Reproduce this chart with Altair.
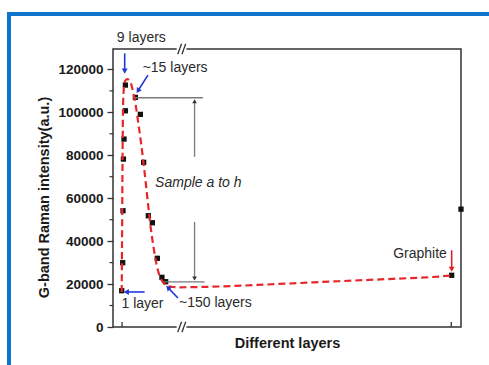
import altair as alt
import pandas as pd

# ---- measured data (x in arbitrary "layer position" units 0-100) ----
layer_x = [2.50, 2.78, 2.87, 2.99, 3.16, 3.56, 3.56, 6.43, 7.86, 8.81, 10.16,
           11.31, 12.74, 14.06, 15.13, 97.32, 100.0]
intensity = [16900, 29950, 54160, 78230, 87540, 100720, 112690, 106960, 99050,
             76700, 51830, 48570, 32000, 23140, 21100, 24090, 54900]

fit_x = [2.50, 2.58, 2.67, 2.76, 2.87, 3.07, 3.50, 4.08, 4.65, 5.22, 5.80, 6.52,
         7.23, 7.95, 8.67, 9.39, 10.10, 10.82, 11.68, 12.54, 13.40, 14.55, 15.70,
         17.14, 19.14, 24.89, 34.36, 44.12, 53.59, 63.06, 72.82, 82.29, 91.76, 97.30]
fit_y = [16300, 35850, 59140, 82420, 101050, 110360, 114550, 115480, 115020,
         113150, 109430, 103380, 95460, 87080, 77770, 67520, 56810, 46570, 36790,
         28870, 23750, 20490, 19090, 18630, 18490, 18630, 19090, 19790, 20490,
         21190, 21880, 22580, 23280, 23980]

y_tick_values = [0, 20000, 40000, 60000, 80000, 100000, 120000]
y_minor_values = [10000, 30000, 50000, 70000, 90000, 110000]
x_tick_values = [2.6, 97.2]

label_text = ["9 layers", "~15 layers", "1 layer", "~150 layers", "Graphite"]
label_x = [8.15, 17.85, 8.47, 29.42, 88.23]
label_y = [134580, 120470, 10710, 11040, 33990]

sample_text = ["Sample a to h"]
sample_x = [24.51]
sample_y = [66910]

# blue pointer arrows (start -> tip)
blue_x = [3.36, 10.05, 9.09, 18.66]
blue_y = [127460, 117360, 16320, 13520]
blue_x2 = [3.36, 7.18, 3.83, 15.79]
blue_y2 = [119200, 110050, 16320, 18340]
blue_angle = [180, 212.5, 270, 316]

# red graphite arrow
red_x = [97.32]
red_y = [35750]
red_x2 = [97.32]
red_y2 = [26900]
red_angle = [180]

# gray brackets (horizontal lines) and double arrow
bracket_x = [5.74, 14.35]
bracket_x2 = [25.84, 26.32]
bracket_y = [106790, 20980]
gray_x = [23.44, 23.44]
gray_y = [79270, 48960]
gray_y2 = [105200, 22600]
gray_angle = [0, 180]

# axis break position
break_x = [19.7]
break_y = [129500, 0]

X_DOMAIN = [0, 100]
Y_DOMAIN = [0, 129500]
FONT = "Liberation Sans"

X_AXIS = alt.Axis(title="Different layers", labels=False, ticks=False, domain=False,
                  grid=False, titleFontSize=14.5, titleFontWeight="bold",
                  titleColor="#1a1a1a", titlePadding=9, titleFont=FONT)
Y_AXIS = alt.Axis(title="G-band Raman intensity(a.u.)", values=y_tick_values,
                  format="d", domain=False, grid=False, tickSize=6,
                  tickColor="#333", tickWidth=1.3, labelPadding=4,
                  labelFontSize=13.5, labelFontWeight="bold", labelColor="#1a1a1a",
                  labelFont=FONT, titleFontSize=14.5, titleFontWeight="bold",
                  titleColor="#1a1a1a", titleFont=FONT, titlePadding=6,
                  titleY=148)


def xs(field):
    return alt.X(field, type="quantitative",
                 scale=alt.Scale(domain=X_DOMAIN, nice=False, zero=False),
                 axis=X_AXIS)


def ys(field):
    return alt.Y(field, type="quantitative",
                 scale=alt.Scale(domain=Y_DOMAIN, nice=False, zero=False),
                 axis=Y_AXIS)


points_df = pd.DataFrame({"x": layer_x, "y": intensity})
fit_df = pd.DataFrame({"x": fit_x, "y": fit_y})
one = pd.DataFrame({"a": [0]})

points = alt.Chart(points_df).mark_square(size=28, color="#111", opacity=1).encode(
    x=xs("x"), y=ys("y"))

curve = alt.Chart(fit_df).mark_line(color="#e8262a", strokeWidth=2.2,
                                    strokeDash=[7, 4], interpolate="monotone").encode(
    x=xs("x"), y=ys("y"))

minor_ticks = alt.Chart(pd.DataFrame({"y": y_minor_values})).mark_rule(
    color="#333", strokeWidth=1.2).encode(
    y=ys("y"), x=alt.value(-3.5), x2=alt.value(0))

x_ticks = alt.Chart(pd.DataFrame({"x": x_tick_values})).mark_rule(
    color="#333", strokeWidth=1.3).encode(
    x=xs("x"), y=alt.value(278), y2=alt.value(273))

# axis breaks
brk_df = pd.DataFrame({"x": break_x * 2, "y": break_y})
brk_df["xl"] = brk_df["x"] - 1.4
brk_df["xr"] = brk_df["x"] + 1.4
brk_df["yl"] = brk_df["y"] - 2600
brk_df["yh"] = brk_df["y"] + 2600
brk_gap = alt.Chart(brk_df).mark_rect(color="white").encode(
    x=xs("xl"), x2="xr", y=ys("yl"), y2="yh")
slash_df = pd.DataFrame({
    "x": [b - 1.1 for b in break_x] * 2 + [b + 0.1 for b in break_x] * 2,
    "y": break_y * 2,
})
slash_df["x2"] = slash_df["x"] + 1.1
slash_df["ylo"] = slash_df["y"] - 2400
slash_df["yhi"] = slash_df["y"] + 2400
slashes = alt.Chart(slash_df).mark_rule(color="#333", strokeWidth=1.3).encode(
    x=xs("x"), x2="x2", y=ys("ylo"), y2="yhi")

# gray brackets
brackets = alt.Chart(pd.DataFrame({"x": bracket_x, "x2": bracket_x2, "y": bracket_y})
                     ).mark_rule(color="#7a7a7a", strokeWidth=1.3).encode(
    x=xs("x"), x2="x2", y=ys("y"))
gray_df = pd.DataFrame({"x": gray_x, "y": gray_y, "y2": gray_y2, "angle": gray_angle})
gray_shaft = alt.Chart(gray_df).mark_rule(color="#7a7a7a", strokeWidth=1.3).encode(
    x=xs("x"), y=ys("y"), y2="y2")
gray_head = alt.Chart(gray_df).mark_point(shape="triangle-up", filled=True, size=22,
                                          color="#333", opacity=1).encode(
    x=xs("x"), y=ys("y2"), angle=alt.Angle("angle:Q", scale=None))

# blue arrows
blue_df = pd.DataFrame({"x": blue_x, "y": blue_y, "x2": blue_x2, "y2": blue_y2,
                        "angle": blue_angle})
blue_shaft = alt.Chart(blue_df).mark_rule(color="#2236d8", strokeWidth=1.6).encode(
    x=xs("x"), x2="x2", y=ys("y"), y2="y2")
blue_head = alt.Chart(blue_df).mark_point(shape="triangle-up", filled=True, size=34,
                                          color="#2236d8", opacity=1).encode(
    x=xs("x2"), y=ys("y2"), angle=alt.Angle("angle:Q", scale=None))

red_df = pd.DataFrame({"x": red_x, "y": red_y, "x2": red_x2, "y2": red_y2,
                       "angle": red_angle})
red_shaft = alt.Chart(red_df).mark_rule(color="#e0202a", strokeWidth=1.6).encode(
    x=xs("x"), x2="x2", y=ys("y"), y2="y2")
red_head = alt.Chart(red_df).mark_point(shape="triangle-up", filled=True, size=34,
                                        color="#e0202a", opacity=1).encode(
    x=xs("x2"), y=ys("y2"), angle=alt.Angle("angle:Q", scale=None))

labels = alt.Chart(pd.DataFrame({"t": label_text, "x": label_x, "y": label_y})).mark_text(
    font=FONT, fontSize=14, color="#2a2a2a", align="center", baseline="middle").encode(
    x=xs("x"), y=ys("y"), text="t:N")

sample = alt.Chart(pd.DataFrame({"t": sample_text, "x": sample_x, "y": sample_y})).mark_text(
    font=FONT, fontSize=14, fontStyle="italic", color="#2a2a2a", align="center",
    baseline="middle").encode(x=xs("x"), y=ys("y"), text="t:N")

# blue page frame
frame_left = alt.Chart(one).mark_rule(color="#0e74cc", strokeWidth=4).encode(
    x=alt.value(-104), y=alt.value(-37), y2=alt.value(316))
frame_top = alt.Chart(one).mark_rule(color="#0e74cc", strokeWidth=4).encode(
    y=alt.value(-35), x=alt.value(-106), x2=alt.value(376))

chart = alt.layer(
    points,
    frame_left, frame_top,
    brackets, gray_shaft, gray_head,
    curve,
    minor_ticks, x_ticks,
    brk_gap, slashes,
    blue_shaft, blue_head, red_shaft, red_head,
    labels, sample,
).properties(
    width=348, height=278,
    autosize=alt.AutoSizeParams(type="none"),
    padding={"left": 113, "top": 49, "right": 28, "bottom": 38},
    background="white",
).configure(font=FONT).configure_view(
    stroke="#333", strokeWidth=1.5
)

chart.save("out.html", embed_options={"renderer": "svg", "actions": False})
